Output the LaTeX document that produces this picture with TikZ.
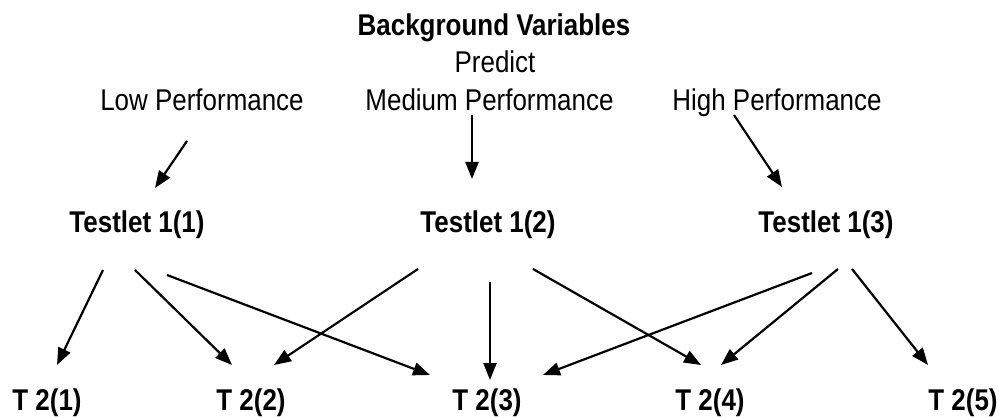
\documentclass[tikz,border=0pt]{standalone}
\usepackage{fontspec}
\setmainfont[FakeStretch=0.865]{Liberation Sans}
\usetikzlibrary{arrows.meta,calc}
\tikzset{
  lbl/.style={anchor=base,inner sep=0pt,font=\fontsize{30}{34}\selectfont},
  blbl/.style={lbl,font=\fontsize{30}{34}\selectfont\bfseries},
  arr/.style={line width=2.2pt,-{Triangle[length=17pt,width=13pt]}}
}
\begin{document}
\begin{tikzpicture}[x=1pt,y=-1pt]
\useasboundingbox (0,0) rectangle (999,417);
\node[blbl] (bg) at (494,36) {Background Variables};
\node[lbl] (pred) at (495,73) {Predict};
\node[lbl] (low) at (202,111) {Low Performance};
\node[lbl] (med) at (489.5,111) {Medium Performance};
\node[lbl] (high) at (777,111) {High Performance};
\node[blbl] (t11) at (137,233) {Testlet 1(1)};
\node[blbl] (t12) at (488,233) {Testlet 1(2)};
\node[blbl] (t13) at (826,233) {Testlet 1(3)};
\node[blbl] (t21) at (47,410) {T 2(1)};
\node[blbl] (t22) at (251,410) {T 2(2)};
\node[blbl] (t23) at (487,410) {T 2(3)};
\node[blbl] (t24) at (710,410) {T 2(4)};
\node[blbl] (t25) at (963,410) {T 2(5)};
% top level
\draw[arr] ($(low.base)+(-15,30)$) -- ($(t11.base)+(18,-45)$);
\draw[arr] ($(med.base)+(-17.5,4)$) -- ($(t12.base)+(-16,-54)$);
\draw[arr] ($(high.base)+(-43,4)$) -- ($(t13.base)+(-44,-46)$);
% from Testlet 1(1)
\draw[arr] ($(t11.base)+(-34,37)$) -- ($(t21.base)+(10,-45)$);
\draw[arr] ($(t11.base)+(-2,37)$) -- ($(t22.base)+(-19,-45)$);
\draw[arr] ($(t11.base)+(30,42)$) -- ($(t23.base)+(-57,-35)$);
% from Testlet 1(2)
\draw[arr] ($(t12.base)+(-70,36)$) -- ($(t22.base)+(23,-45)$);
\draw[arr] ($(t12.base)+(2,49)$) -- ($(t23.base)+(3,-30)$);
\draw[arr] ($(t12.base)+(45,36)$) -- ($(t24.base)+(-9,-45)$);
% from Testlet 1(3)
\draw[arr] ($(t13.base)+(-14,40)$) -- ($(t23.base)+(56,-35)$);
\draw[arr] ($(t13.base)+(12,36)$) -- ($(t24.base)+(11,-45)$);
\draw[arr] ($(t13.base)+(26,36)$) -- ($(t25.base)+(-35,-45)$);
\end{tikzpicture}
\end{document}
